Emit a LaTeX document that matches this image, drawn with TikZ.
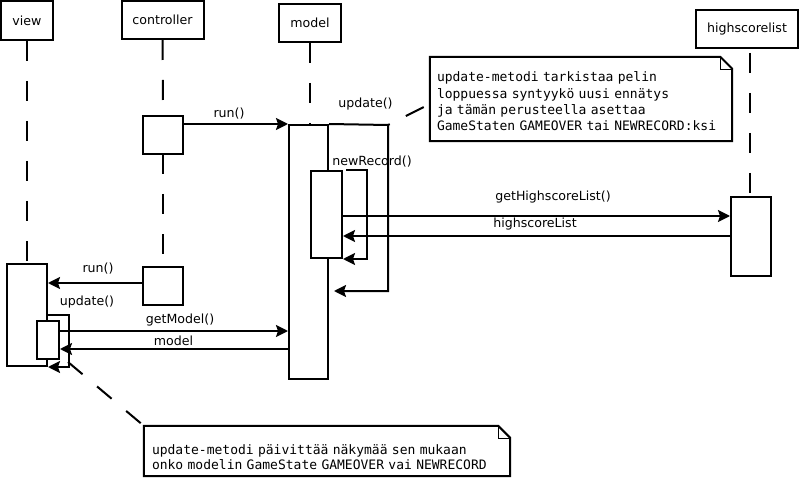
\documentclass[tikz,border=0pt]{standalone}
\usepackage{fontspec}
\setmainfont{DejaVu Sans}
\newfontfamily\notefont{DejaVu Sans Mono}
\usetikzlibrary{arrows.meta}
\begin{document}
\begin{tikzpicture}[x=1pt,y=-1pt,
    obj/.style={draw,line width=2pt,inner sep=0pt,font=\fontsize{12.6}{15}\selectfont},
    act/.style={draw,fill=white,line width=2pt,inner sep=0pt},
    lifeline/.style={line width=2pt,dash pattern=on 20pt off 20pt},
    msg/.style={line width=2pt,-{Stealth[length=12pt,width=12pt,inset=2pt]}},
    lbl/.style={inner sep=0pt,font=\fontsize{12.6}{15}\selectfont},
    notebox/.style={inner xsep=7pt,inner ysep=0pt,align=left,font=\notefont\fontsize{13}{16.3}\selectfont},
    link/.style={line width=2pt}]
    \useasboundingbox (0,0) rectangle (802,478);
    % objects on top
    \node[obj,minimum width=52,minimum height=39] (view) at (27,20.5) {view};
    \node[obj,minimum width=82,minimum height=38] (controller) at (162.5,20) {controller};
    \node[obj,minimum width=62,minimum height=38] (model) at (310,23) {model};
    \node[obj,minimum width=102,minimum height=38] (hs) at (747,29) {highscorelist};
    % lifelines
    \draw[lifeline] (view.south) -- (27,264);
    \draw[lifeline] (controller.south) -- (163,116);
    \draw[lifeline] (163,154) -- (163,267);
    \draw[lifeline] (model.south) -- (310,125);
    \draw[lifeline,dash phase=35pt] (750,48) -- (750,197);
    % activations
    \node[act,minimum width=40,minimum height=38] (ctrlact1) at (163,135) {};
    \node[act,minimum width=40,minimum height=38] (ctrlact2) at (163,286) {};
    \node[act,minimum width=39,minimum height=254] (modelact) at (308.5,252) {};
    \node[act,minimum width=31,minimum height=87] (recact) at (326.5,214.5) {};
    \node[act,minimum width=40,minimum height=79] (hsact) at (751,236.5) {};
    \node[act,minimum width=40,minimum height=102] (viewact) at (27,315) {};
    \node[act,minimum width=22,minimum height=38] (updact) at (48,340) {};
    % messages
    \draw[msg] (ctrlact1.east |- modelact.north west) -- (modelact.north west);
    \node[lbl] (lrun1) at (229,114) {run()};
    \coordinate (updturn) at (388,125);
    \coordinate (updret) at (334,291);
    \draw[msg] (modelact.north east) -- (updturn) |- (updret);
    \node[lbl] (lupd1) at (365.5,104) {update()};
    \draw[msg] ([xshift=3pt]recact.north east) -- ++(21,0) |- (recact.south east);
    \node[lbl] (lrec) at (372,162) {newRecord()};
    \draw[msg] (recact.east |- 0,216) -- (hsact.west |- 0,216);
    \node[lbl] (lgethl) at (553,197) {getHighscoreList()};
    \draw[msg] (hsact.west |- 0,236) -- (recact.east |- 0,236);
    \node[lbl] (lhl) at (535,224) {highscoreList};
    \draw[msg] (ctrlact2.west |- 0,283) -- (viewact.east |- 0,283);
    \node[lbl] (lrun2) at (98,269) {run()};
    \draw[msg] (viewact.east |- 0,315) -| ([xshift=21pt]viewact.south east) -- (viewact.south east);
    \node[lbl] (lupd2) at (87,302) {update()};
    \draw[msg] (updact.east |- 0,331) -- (modelact.west |- 0,331);
    \node[lbl] (lgetm) at (180,320) {getModel()};
    \draw[msg] (modelact.west |- 0,349) -- (updact.east |- 0,349);
    \node[lbl] (lmodel) at (173.5,341) {model};
    % notes
    \node[notebox,minimum width=302,minimum height=84,text width=288] (note1) at (581,99)
        {\rule{0pt}{14.7pt}update-metodi tarkistaa pelin\\loppuessa syntyykö uusi ennätys\\ja tämän perusteella asettaa\\GameStaten GAMEOVER tai NEWRECORD:ksi};
    \draw[line width=2pt] (note1.north west) -- ([xshift=-12pt]note1.north east) -- ([yshift=-12pt]note1.north east)
        -- (note1.south east) -- (note1.south west) -- cycle;
    \draw ([xshift=-12pt]note1.north east) |- ([yshift=-12pt]note1.north east);% fold
    \node[notebox,font=\notefont\fontsize{13}{14.8}\selectfont,minimum width=366,minimum height=50,text width=350,inner xsep=8pt] (note2) at (327,451)
        {\rule{0pt}{22.7pt}update-metodi päivittää näkymää sen mukaan\\onko modelin GameState GAMEOVER vai NEWRECORD};
    \draw[line width=2pt] (note2.north west) -- ([xshift=-12pt]note2.north east) -- ([yshift=-12pt]note2.north east)
        -- (note2.south east) -- (note2.south west) -- cycle;
    \draw ([xshift=-12pt]note2.north east) |- ([yshift=-12pt]note2.north east);% fold
    % note links
    \draw[link,dash pattern=on 20pt off 18pt,dash phase=18pt] (updturn) -- (note1.west |- 0,104);
    \coordinate (selfupd) at (68,362);
    \draw[link,dash pattern=on 19pt off 19pt] (selfupd) -- (note2.north west);
\end{tikzpicture}
\end{document}
